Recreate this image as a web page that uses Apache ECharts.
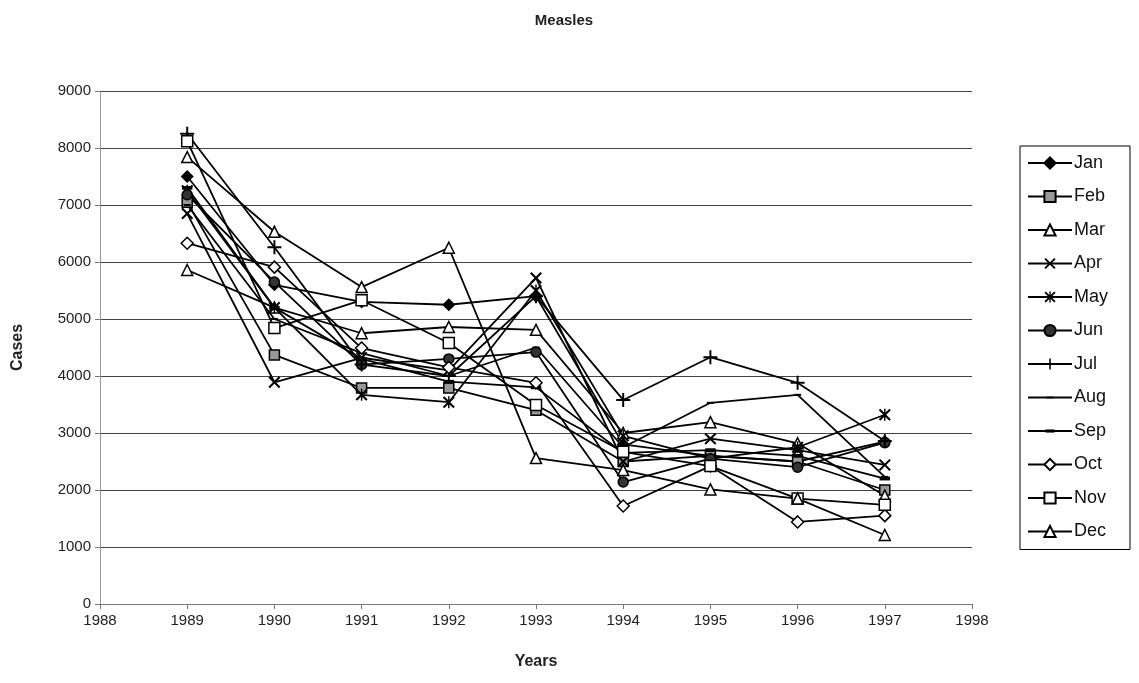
<!DOCTYPE html>
<html><head><meta charset="utf-8">
<script src="https://cdn.jsdelivr.net/npm/echarts@6/dist/echarts.min.js"></script>
<style>html,body{margin:0;padding:0;background:#fff}#c{width:1139px;height:683px}</style>
</head><body><div id="c"></div>
<script>
const years = [1989, 1990, 1991, 1992, 1993, 1994, 1995, 1996, 1997];
const yTicks = [0, 1000, 2000, 3000, 4000, 5000, 6000, 7000, 8000, 9000];
const seriesNames = ['Jan','Feb','Mar','Apr','May','Jun','Jul','Aug','Sep','Oct','Nov','Dec'];
const jan = [7500, 5600, 5300, 5250, 5400, 2800, 2600, 2500, 2850];
const feb = [7050, 4370, 3790, 3790, 3400, 2500, 2600, 2500, 2000];
const mar = [5860, 5200, 4750, 4860, 4810, 3000, 3190, 2820, 1900];
const apr = [6850, 3890, 4320, 4100, 5720, 2500, 2900, 2700, 2440];
const may = [7250, 5200, 3670, 3540, 5500, 2950, 2550, 2750, 3320];
const jun = [7180, 5650, 4200, 4300, 4420, 2140, 2550, 2400, 2830];
const jul = [8250, 6260, 4200, 4000, 5400, 3580, 4330, 3880, 2860];
const aug = [7000, 5000, 4400, 4000, 4500, 2750, 3530, 3670, 2230];
const sep = [7300, 5200, 4300, 3900, 3800, 2650, 2700, 2600, 2200];
const oct = [6330, 5910, 4490, 4150, 3880, 1720, 2420, 1440, 1550];
const nov = [8120, 4840, 5330, 4580, 3490, 2670, 2420, 1850, 1740];
const dec = [7840, 6530, 5560, 6250, 2560, 2350, 2010, 1850, 1210];
const allData = [jan, feb, mar, apr, may, jun, jul, aug, sep, oct, nov, dec];

const X = 'path://M0,1.2 L1.2,0 L5,3.8 L8.8,0 L10,1.2 L6.2,5 L10,8.8 L8.8,10 L5,6.2 L1.2,10 L0,8.8 L3.8,5 Z';
const STAR = 'path://M0,1.2 L1.2,0 L4.4,3.2 L4.4,0 L5.6,0 L5.6,3.2 L8.8,0 L10,1.2 L6.2,5 L10,8.8 L8.8,10 L5.6,6.8 L5.6,10 L4.4,10 L4.4,6.8 L1.2,10 L0,8.8 L3.8,5 Z';
const PLUS = 'path://M4.3,0 H5.7 V4.3 H10 V5.7 H5.7 V10 H4.3 V5.7 H0 V4.3 H4.3 Z';
const DASH = 'path://M0,0 M10,10 M2,4.2 H8 V5.8 H2 Z';
const DASH2 = 'path://M0,0 M10,10 M1,3.6 H9 V6.4 H1 Z';
const styles = [
  {symbol: 'diamond', size: 11, fill: '#000'},
  {symbol: 'rect', size: 10, fill: '#999'},
  {symbol: 'triangle', size: 11, fill: '#fff'},
  {symbol: X, size: 12, fill: '#000', noBorder: true},
  {symbol: STAR, size: 12, fill: '#000', noBorder: true},
  {symbol: 'circle', size: 10, fill: '#333'},
  {symbol: PLUS, size: 14, fill: '#000', noBorder: true},
  {symbol: DASH, size: 12, fill: '#000', noBorder: true},
  {symbol: DASH2, size: 13, fill: '#000', noBorder: true},
  {symbol: 'diamond', size: 12, fill: '#fff'},
  {symbol: 'rect', size: 11, fill: '#fff'},
  {symbol: 'triangle', size: 11, fill: '#fff'}
];

const series = seriesNames.map((n, i) => ({
  name: n,
  type: 'line',
  data: years.map((y, j) => [y, allData[i][j]]),
  symbol: styles[i].symbol,
  symbolSize: styles[i].size,
  showAllSymbol: true,
  animation: false,
  lineStyle: {color: '#000', width: 1.8},
  itemStyle: {color: styles[i].fill, borderColor: '#000', borderWidth: styles[i].noBorder ? 0 : 1.5}
}));

const chart = echarts.init(document.getElementById('c'), null, {renderer: 'canvas'});
chart.setOption({
  backgroundColor: '#fff',
  animation: false,
  title: {text: 'Measles', left: 559, top: 8, textAlign: 'center',
    textStyle: {fontFamily: 'Liberation Sans', fontSize: 15, fontWeight: 'bold', color: '#222'}},
  grid: {left: 100, right: 167, top: 91, bottom: 79, containLabel: false},
  legend: {
    orient: 'vertical', left: 1020, top: 146, data: seriesNames,
    itemWidth: 44, itemHeight: 14, itemGap: 15.5,
    padding: [8, 22, 9, 7],
    borderColor: '#000', borderWidth: 1,
    textStyle: {fontFamily: 'Liberation Sans', fontSize: 18, color: '#111', padding: [0, 0, 0, -3]}
  },
  xAxis: {
    type: 'value', min: 1988, max: 1998, interval: 1,
    name: 'Years', nameLocation: 'middle', nameGap: 50,
    nameTextStyle: {fontFamily: 'Liberation Sans', fontSize: 16, fontWeight: 'bold', color: '#222'},
    axisLine: {show: true, lineStyle: {color: '#777', width: 1}},
    axisTick: {show: true, length: 5, lineStyle: {color: '#777'}},
    axisLabel: {fontFamily: 'Liberation Sans', fontSize: 15, color: '#222', margin: 9,
      formatter: v => String(v)},
    splitLine: {show: false}
  },
  yAxis: {
    type: 'value', min: 0, max: 9000, interval: 1000,
    name: 'Cases', nameLocation: 'middle', nameGap: 74, nameRotate: 90,
    nameTextStyle: {fontFamily: 'Liberation Sans', fontSize: 16, fontWeight: 'bold', color: '#222'},
    axisLine: {show: true, lineStyle: {color: '#999', width: 1}},
    axisTick: {show: true, length: 5, lineStyle: {color: '#777'}},
    axisLabel: {fontFamily: 'Liberation Sans', fontSize: 15, color: '#222', margin: 9,
      formatter: v => yTicks.includes(v) ? String(v) : ''},
    splitLine: {show: true, lineStyle: {color: '#444', width: 1}}
  },
  series: series
});
</script></body></html>
